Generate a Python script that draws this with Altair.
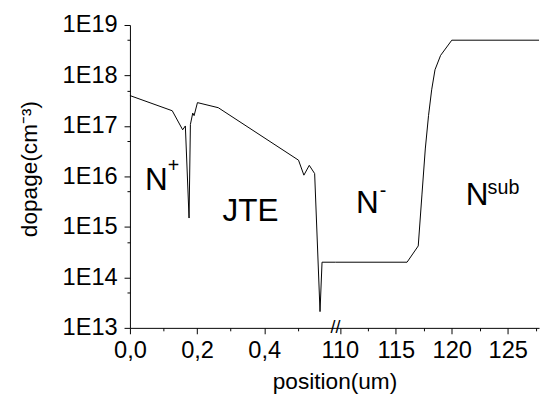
import altair as alt
import pandas as pd

FONT = "Liberation Sans"

# ---- data ----
# left part of the broken x axis (0 .. 0.612 um)
left_x = [0.0, 0.126, 0.157, 0.165, 0.176, 0.180, 0.187, 0.191, 0.201, 0.263,
          0.502, 0.518, 0.534, 0.550, 0.566, 0.572, 0.612]
left_y = [4.0e17, 2.0e17, 8.4e16, 1.0e17, 1.5e15, 1.07e17, 1.8e17, 1.6e17, 2.9e17, 2.3e17,
          2.1e16, 1.06e16, 1.66e16, 1.14e16, 2.1e13, 2.0e14, 2.0e14]
# right part of the broken x axis (109.6 .. 127.8 um)
right_x = [109.6, 116.0, 117.0, 117.33, 117.63, 117.92, 118.2, 118.5, 119.0, 120.0, 127.8]
right_y = [2.0e14, 2.0e14, 4.2e14, 4.3e15, 3.5e16, 1.6e17, 5.2e17, 1.3e18, 2.5e18, 5.0e18, 5.0e18]

# region labels
lab_left_text = ["N", "JTE"]
lab_left_x = [0.079, 0.359]
lab_left_y = [5.5e15, 1.3e15]
sup_left_text = ["+"]
sup_left_x = [0.130]
sup_left_y = [1.6e16]

lab_right_text = ["N", "N"]
lab_right_x = [112.45, 122.27]
lab_right_y = [1.9e15, 2.7e15]
sup_right_text = ["-", "sub"]
sup_right_x = [113.84, 124.62]
sup_right_y = [5.15e15, 6.0e15]

# axis break marker
break_text = ["//"]
break_x = [109.6]
break_y = [1e13]

# ticks
x_ticks_left = [0.0, 0.1, 0.2, 0.3, 0.4, 0.5]
x_ticks_right = [110, 112.5, 115, 117.5, 120, 122.5, 125, 127.5]
y_ticks = [1e13, 5e13, 1e14, 5e14, 1e15, 5e15, 1e16, 5e16, 1e17, 5e17, 1e18, 5e18, 1e19]

x_left_domain = [0.0, 0.612]
x_right_domain = [109.6, 127.8]
y_domain = [1e13, 1e19]

# ---- tables ----
df_left = pd.DataFrame({"x": left_x, "y": left_y})
df_right = pd.DataFrame({"x": right_x, "y": right_y})
df_lab_left = pd.DataFrame({"x": lab_left_x, "y": lab_left_y, "t": lab_left_text})
df_sup_left = pd.DataFrame({"x": sup_left_x, "y": sup_left_y, "t": sup_left_text})
df_lab_right = pd.DataFrame({"x": lab_right_x, "y": lab_right_y, "t": lab_right_text})
df_sup_right = pd.DataFrame({"x": sup_right_x, "y": sup_right_y, "t": sup_right_text})
df_break = pd.DataFrame({"x": break_x, "y": break_y, "t": break_text})

# ---- scales / axes ----
yscale = alt.Scale(type="log", domain=y_domain, nice=False)
xl_scale = alt.Scale(domain=x_left_domain, nice=False, zero=False)
xr_scale = alt.Scale(domain=x_right_domain, nice=False, zero=False)

major_y = "abs(log(datum.value)/LN10 - round(log(datum.value)/LN10)) < 0.01"
y_axis = alt.Axis(
    values=y_ticks,
    labelExpr=f"({major_y}) ? '1E' + round(log(datum.value)/LN10) : ''",
    tickSize={"condition": {"test": major_y, "value": 6}, "value": 3},
    labelPadding=7,
    labelOverlap=False,
    labelFlush=False,
    title="dopage(cm⁻³)",
    titleX=-95,
    titleY=146,
    titleAngle=-90,
    titleAlign="center",
    titleBaseline="alphabetic",
)

major_xl = "round(datum.value*10) % 2 == 0"
xl_axis = alt.Axis(
    values=x_ticks_left,
    labelExpr=f"({major_xl}) ? replace(format(datum.value, '.1f'), '.', ',') : ''",
    tickSize={"condition": {"test": major_xl, "value": 6}, "value": 3},
    labelPadding=5,
    labelOverlap=False,
    labelFlush=False,
    title="position(um)",
    titleX=208,
    titleY=62,
    titleAlign="center",
    titleBaseline="alphabetic",
)

major_xr = "datum.value % 5 == 0"
xr_axis = alt.Axis(
    values=x_ticks_right,
    labelExpr=f"({major_xr}) ? format(datum.value, 'd') : ''",
    tickSize={"condition": {"test": major_xr, "value": 6}, "value": 3},
    labelPadding=5,
    labelOverlap=False,
    labelFlush=False,
    title=None,
)

H = 308


def panel(df_line, df_lab, df_sup, xscale, xaxis, yaxis, width, extra=None):
    X = alt.X("x:Q", scale=xscale, axis=xaxis)
    Y = alt.Y("y:Q", scale=yscale, axis=yaxis)
    line = alt.Chart(df_line).mark_line(color="black", strokeWidth=1).encode(x=X, y=Y)
    lab = alt.Chart(df_lab).mark_text(
        font=FONT, fontSize=32, color="black", align="center", baseline="alphabetic"
    ).encode(x=X, y=Y, text="t:N")
    sup = alt.Chart(df_sup).mark_text(
        font=FONT, fontSize=20, color="black", align="center", baseline="middle"
    ).encode(x=X, y=Y, text="t:N")
    layers = [line, lab, sup]
    if extra is not None:
        brk = alt.Chart(extra).mark_text(
            font=FONT, fontSize=18, color="black", align="center", baseline="middle"
        ).encode(x=X, y=Y, text="t:N")
        layers.append(brk)
    return alt.layer(*layers).properties(width=width, height=H)


left = panel(df_left, df_lab_left, df_sup_left, xl_scale, xl_axis, y_axis, 209)
right = panel(df_right, df_lab_right, df_sup_right, xr_scale, xr_axis, None, 207, extra=df_break)

chart = (
    alt.hconcat(left, right, spacing=0, bounds="flush")
    .properties(padding={"left": 10, "top": 2, "right": 0, "bottom": 0}, background="white")
    .configure_view(stroke=None)
    .configure_axis(
        grid=False,
        domainColor="black",
        domainWidth=1,
        tickColor="black",
        tickWidth=1,
        labelColor="black",
        labelFont=FONT,
        labelFontSize=24,
        titleColor="black",
        titleFont=FONT,
        titleFontSize=23,
        titleFontWeight="normal",
    )
)

chart.save("out.html", embed_options={"renderer": "svg", "actions": False})
